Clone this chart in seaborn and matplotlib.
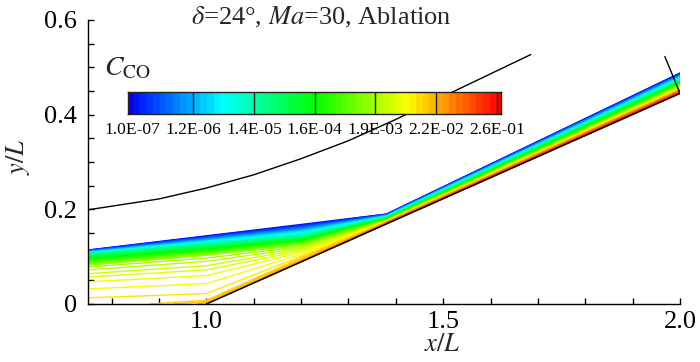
import numpy as np
import pandas as pd
import matplotlib
matplotlib.use("Agg")
import matplotlib.pyplot as plt
import seaborn as sns
from matplotlib.colors import LinearSegmentedColormap

sns.set_theme(style="ticks")
plt.rcParams["font.family"] = ["Liberation Serif", "DejaVu Serif"]
plt.rcParams["mathtext.fontset"] = "stix"

nan = np.nan

# ---------------- data ----------------
title_text = r"$\delta$=24°, $Ma$=30, Ablation"
cbar_labels = ["1.0E-07", "1.2E-06", "1.4E-05", "1.6E-04", "1.9E-03", "2.2E-02", "2.6E-01"]
n_levels = 55

# geometry (x/L, y/L)
wall_x = [0.75, 1.0, 2.0]
wall_y = [0.0, 0.0, 0.445]
shock_x = [0.75, 0.90, 1.00, 1.10, 1.20, 1.30, 1.40, 1.52, 1.685]
shock_y = [0.199, 0.222, 0.245, 0.273, 0.307, 0.345, 0.390, 0.448, 0.527]
outflow_x = [1.968, 2.0]
outflow_y = [0.523, 0.445]

# contour lines of C_CO, one entry per level, y at each x-station
stations_x = [0.75, 1.0, 1.2, 1.38, 2.0]
y_075 = [0.1140, 0.1136, 0.1131, 0.1127, 0.1122, 0.1118, 0.1113, 0.1109, 0.1104, 0.1100,
         0.1095, 0.1091, 0.1086, 0.1082, 0.1077, 0.1073, 0.1068, 0.1064, 0.1059, 0.1055,
         0.1050, 0.1040, 0.1024, 0.1009, 0.0993, 0.0977, 0.0961, 0.0946, 0.0930, 0.0914,
         0.0899, 0.0883, 0.0867, 0.0851, 0.0836, 0.0820, 0.0780, 0.0720, 0.0640, 0.0570,
         0.0470, 0.0320, 0.0130] + [nan] * 12
y_100 = [0.1440, 0.1431, 0.1421, 0.1412, 0.1402, 0.1393, 0.1383, 0.1374, 0.1364, 0.1355,
         0.1345, 0.1336, 0.1326, 0.1317, 0.1307, 0.1298, 0.1288, 0.1279, 0.1269, 0.1260,
         0.1250, 0.1235, 0.1221, 0.1206, 0.1191, 0.1177, 0.1162, 0.1147, 0.1133, 0.1118,
         0.1103, 0.1088, 0.1074, 0.1059, 0.1044, 0.1030, 0.0970, 0.0900, 0.0810, 0.0720,
         0.0600, 0.0430, 0.0220, 0.0080, 0.0050, 0.0030] + [nan] * 9
y_120 = [0.1680, 0.1667, 0.1654, 0.1641, 0.1628, 0.1615, 0.1602, 0.1589, 0.1576, 0.1563,
         0.1550, 0.1537, 0.1524, 0.1511, 0.1498, 0.1485, 0.1472, 0.1459, 0.1446, 0.1433,
         0.1420, 0.1408, 0.1396, 0.1384, 0.1372, 0.1360, 0.1348, 0.1336, 0.1324, 0.1312,
         0.1300, 0.1288, 0.1276, 0.1264, 0.1252, 0.1240, 0.1210, 0.1180, 0.1150, 0.1120,
         0.1090, 0.1050, 0.1010, 0.0980, 0.0950, 0.0925, 0.0910, 0.0900] + [nan] * 7
y_138 = [0.1900, 0.1896, 0.1892, 0.1888, 0.1885, 0.1881, 0.1877, 0.1873, 0.1869, 0.1865,
         0.1861, 0.1858, 0.1854, 0.1850, 0.1846, 0.1842, 0.1838, 0.1834, 0.1831, 0.1827,
         0.1823, 0.1819, 0.1815, 0.1811, 0.1808, 0.1804, 0.1800, 0.1796, 0.1792, 0.1788,
         0.1784, 0.1781, 0.1777, 0.1773, 0.1769, 0.1765, 0.1761, 0.1757, 0.1754, 0.1750,
         0.1746, 0.1742, 0.1738, 0.1734, 0.1730, 0.1727, 0.1723, 0.1719, 0.1715, 0.1711,
         0.1707] + [nan] * 4
y_200 = [0.4880, 0.4872, 0.4864, 0.4856, 0.4848, 0.4841, 0.4833, 0.4825, 0.4817, 0.4809,
         0.4801, 0.4793, 0.4785, 0.4777, 0.4770, 0.4762, 0.4754, 0.4746, 0.4738, 0.4730,
         0.4722, 0.4714, 0.4706, 0.4699, 0.4691, 0.4683, 0.4675, 0.4667, 0.4659, 0.4651,
         0.4643, 0.4635, 0.4628, 0.4620, 0.4612, 0.4604, 0.4596, 0.4588, 0.4580, 0.4572,
         0.4564, 0.4557, 0.4549, 0.4541, 0.4533, 0.4525, 0.4517, 0.4509, 0.4501, 0.4493,
         0.4486, 0.4478, 0.4470, 0.4462, 0.4454]
# levels that begin on the wall: x where they leave it
start_x = [nan] * 43 + [0.88, 0.93, 0.98, 1.05, 1.12, 1.20, 1.28, 1.36, 1.45, 1.55, 1.65, 1.78]

# ---------------- build ----------------
cmap = LinearSegmentedColormap.from_list(
    "tec", [(0, 0, 1), (0, 1, 1), (0, 1, 0), (1, 1, 0), (1, 0, 0)])

rows = []
station_cols = [y_075, y_100, y_120, y_138, y_200]
for j in range(n_levels):
    k = 0
    if not np.isnan(start_x[j]):
        rows.append((j, k, start_x[j], float(np.interp(start_x[j], wall_x, wall_y))))
        k += 1
    for sx, col in zip(stations_x, station_cols):
        if not np.isnan(col[j]):
            rows.append((j, k, sx, col[j]))
            k += 1
df = pd.DataFrame(rows, columns=["level", "order", "x", "y"])
palette = {j: cmap((j + 0.5) / n_levels) for j in range(n_levels)}

W, H = 700, 362
fig = plt.figure(figsize=(W / 100, H / 100), dpi=100)
ax = fig.add_axes([88 / W, 1 - 304 / H, 592 / W, 284 / H])

sns.lineplot(data=df, x="x", y="y", hue="level", units="level", estimator=None,
             sort=False, palette=palette, legend=False, lw=1.0, ax=ax)

geo = pd.DataFrame({"x": wall_x[1:], "y": wall_y[1:]})
sns.lineplot(data=geo, x="x", y="y", color="black", lw=1.1, sort=False, estimator=None, ax=ax)
sh = pd.DataFrame({"x": shock_x, "y": shock_y})
sns.lineplot(data=sh, x="x", y="y", color="black", lw=1.0, sort=False, estimator=None, ax=ax)
of = pd.DataFrame({"x": outflow_x, "y": outflow_y})
sns.lineplot(data=of, x="x", y="y", color="black", lw=1.0, sort=False, estimator=None, ax=ax)

ax.set_xlim(0.75, 2.0)
ax.set_ylim(0, 0.6)
sns.despine(ax=ax)
for s in ["left", "bottom"]:
    ax.spines[s].set_linewidth(1.0)
    ax.spines[s].set_color("black")
ax.set_xticks([1.0, 1.5, 2.0])
ax.set_xticklabels(["1.0", "1.5", "2.0"])
ax.set_xticks([0.8, 0.9, 1.1, 1.2, 1.3, 1.4, 1.6, 1.7, 1.8, 1.9], minor=True)
ax.set_yticks([0, 0.2, 0.4, 0.6])
ax.set_yticklabels(["0", "0.2", "0.4", "0.6"])
ax.set_yticks([0.05, 0.1, 0.15, 0.25, 0.3, 0.35, 0.45, 0.5, 0.55], minor=True)
ax.tick_params(which="both", direction="in", width=1.0, color="black", labelsize=19,
               labelcolor="black")
ax.tick_params(which="major", length=4.5)
ax.tick_params(which="minor", length=4.5)
ax.tick_params(axis="y", pad=8)
ax.tick_params(axis="x", pad=5)
ax.set_xlabel("")
ax.set_ylabel("")

fig.text(442 / W, 1 - 345 / H, r"$x/L$", fontsize=19, ha="center", va="center")
fig.text(18 / W, 1 - 157 / H, r"$y/L$", fontsize=19, ha="center", va="center", rotation=90)
fig.text(321 / W, 1 - 17 / H, title_text, fontsize=19, ha="center", va="center")
fig.text(104 / W, 1 - 75 / H, r"$C_{\mathrm{CO}}$", fontsize=20, ha="left", va="baseline")

# colorbar
cax = fig.add_axes([127.7 / W, 1 - 114 / H, 373 / W, 22 / H])
edges = np.r_[-0.74, np.arange(0, n_levels), 54.6]
vals = np.arange(len(edges) - 1)[None, :]
cax.pcolormesh(edges, [0, 1], vals, cmap=cmap, vmin=0, vmax=len(edges) - 2)
div = np.arange(0, n_levels, 9)
cax.vlines(div, 0, 1, color="#222222", lw=1.0)
cax.set_xlim(edges[0], edges[-1])
cax.set_ylim(0, 1)
cax.set_yticks([])
cax.set_xticks(div)
cax.set_xticklabels(cbar_labels)
cax.tick_params(axis="x", length=0, pad=6, labelsize=12.6, labelcolor="black")
for s in cax.spines.values():
    s.set_linewidth(1.0)
    s.set_color("#222222")
    s.set_visible(True)

fig.savefig("out.png", dpi=100)
